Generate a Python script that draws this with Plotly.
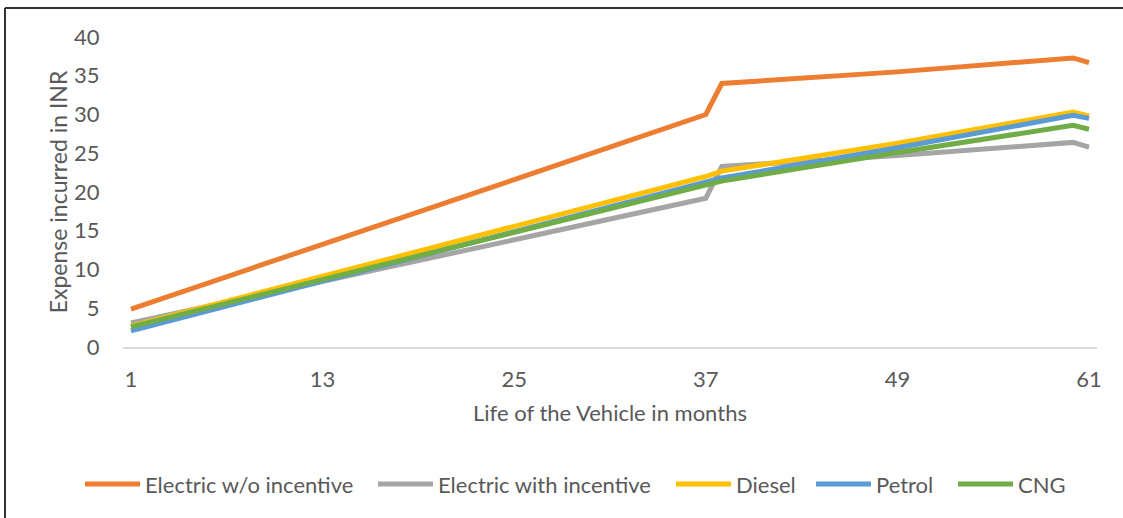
import plotly.graph_objects as go

# ---- data ----
months = [1, 13, 25, 37, 38, 49, 60, 61]
series_names = ["Electric w/o incentive", "Electric with incentive", "Diesel", "Petrol", "CNG"]
electric_wo = [4.9, 13.2, 21.6, 30.0, 34.0, 35.5, 37.3, 36.7]
electric_with = [3.1, 8.5, 13.8, 19.2, 23.3, 24.7, 26.4, 25.8]
diesel = [2.7, 9.1, 15.5, 22.0, 22.7, 26.3, 30.3, 29.8]
petrol = [2.1, 8.5, 14.8, 21.2, 21.8, 25.7, 29.9, 29.5]
cng = [2.6, 8.7, 14.9, 20.9, 21.4, 25.1, 28.6, 28.1]
x_ticks = [1, 13, 25, 37, 49, 61]
x_tick_labels = ["1", "13", "25", "37", "49", "61"]
y_ticks = [0, 5, 10, 15, 20, 25, 30, 35, 40]

colors = ["#ED7D31", "#A5A5A5", "#FFC000", "#5B9BD5", "#70AD47"]
values = [electric_wo, electric_with, diesel, petrol, cng]

W, H = 1123, 518
L, R, T, B = 123, 1097, 37, 347
FONT = "Lato"
TXT = "#595959"


def xp(px):
    return (px - L) / (R - L)


def yp(py):
    return (B - py) / (B - T)


fig = go.Figure()
for name, vals, col in zip(series_names, values, colors):
    fig.add_trace(go.Scatter(x=months, y=vals, mode="lines", name=name,
                             line=dict(color=col, width=5), showlegend=False))

# custom legend (long line samples like the reference)
legend_line_starts = [85, 378, 676, 816, 958]
legend_y = 484
shapes = []
annotations = []
for name, col, x0 in zip(series_names, colors, legend_line_starts):
    shapes.append(dict(type="line", xref="paper", yref="paper",
                       x0=xp(x0), x1=xp(x0 + 55), y0=yp(legend_y), y1=yp(legend_y),
                       line=dict(color=col, width=5)))
    annotations.append(dict(xref="paper", yref="paper", x=xp(x0 + 58), y=yp(legend_y),
                            xanchor="left", yanchor="middle", text=name, showarrow=False,
                            font=dict(family=FONT, size=22, color=TXT)))

# outer frame (left and top edges visible)
shapes.append(dict(type="line", xref="paper", yref="paper", x0=xp(5), x1=xp(5),
                   y0=yp(8), y1=yp(530), line=dict(color="#333333", width=2)))
shapes.append(dict(type="line", xref="paper", yref="paper", x0=xp(5), x1=xp(1130),
                   y0=yp(8), y1=yp(8), line=dict(color="#333333", width=2)))

fig.update_layout(
    width=W, height=H,
    margin=dict(l=L, r=W - R, t=T, b=H - B),
    paper_bgcolor="white", plot_bgcolor="white",
    font=dict(family=FONT, color=TXT, size=22),
    shapes=shapes, annotations=annotations,
    xaxis=dict(range=[0.5, 61.5], tickvals=x_ticks, ticktext=x_tick_labels,
               showgrid=False, zeroline=False, showline=True, linecolor="#D9D9D9", linewidth=1.5,
               ticks="outside", ticklen=12, tickcolor="rgba(0,0,0,0)",
               tickfont=dict(family=FONT, size=22, color=TXT),
               title=dict(text="Life of the Vehicle in months", standoff=14,
                          font=dict(family=FONT, size=22, color=TXT))),
    yaxis=dict(range=[0, 40], tickvals=y_ticks, showgrid=False, zeroline=False, showline=False,
               ticks="outside", ticklen=18, tickcolor="rgba(0,0,0,0)",
               tickfont=dict(family=FONT, size=22, color=TXT),
               title=dict(text="Expense incurred in INR", standoff=0,
                          font=dict(family=FONT, size=23, color=TXT))),
)

fig.write_html("out.html", config={"displayModeBar": False},
               post_script="document.body.style.margin='0px';")
